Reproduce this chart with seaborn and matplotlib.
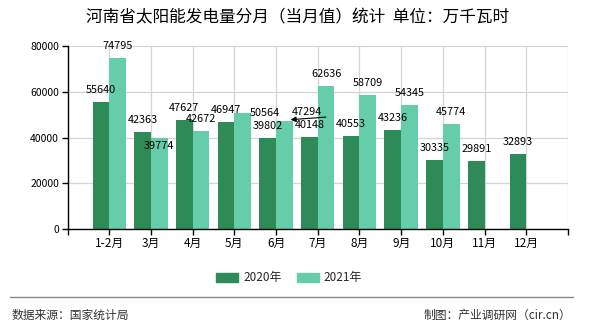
import numpy as np
import pandas as pd
import matplotlib
matplotlib.use("Agg")
import matplotlib.pyplot as plt
import seaborn as sns

# ---- data ----
months = ["1-2月", "3月", "4月", "5月", "6月", "7月", "8月", "9月", "10月", "11月", "12月"]
series_names = ["2020年", "2021年"]
values_2020 = [55640, 42363, 47627, 46947, 39802, 40148, 40553, 43236, 30335, 29891, 32893]
values_2021 = [74795, 39774, 42672, 50564, 47294, 62636, 58709, 54345, 45774, np.nan, np.nan]
y_ticks = [0, 20000, 40000, 60000, 80000]

title = "河南省太阳能发电量分月（当月值）统计  单位：万千瓦时"
source_text = "数据来源：国家统计局"
credit_text = "制图：产业调研网（cir.cn）"

colors = ["#2E8B57", "#66CDAA"]

df = pd.DataFrame({
    "month": months * 2,
    "series": [series_names[0]] * len(months) + [series_names[1]] * len(months),
    "value": values_2020 + values_2021,
})

sns.set_theme(style="white")
plt.rcParams["font.family"] = ["Noto Sans CJK SC", "DejaVu Sans"]

fig = plt.figure(figsize=(5.9, 3.3), dpi=100)
ax = fig.add_axes([67.5 / 590, 1 - 229 / 330, (568 - 67.5) / 590, (229 - 46) / 330])

sns.barplot(data=df, x="month", y="value", hue="series", palette=colors,
            width=0.8, gap=0, saturation=1, ax=ax, legend=True, errorbar=None,
            linewidth=0, edgecolor="none")

ax.set_xlim(-1, len(months))
ax.set_ylim(0, 80000)
ax.set_yticks(y_ticks)
ax.set_yticklabels([str(v) for v in y_ticks], fontsize=7.5, color="black")
ax.set_xticks(range(-1, len(months) + 1))
ax.set_xticklabels([""] + months + [""], fontsize=8.5, color="black")
ax.set_xlabel("")
ax.set_ylabel("")

ax.grid(True, axis="both", color="#d4d4d4", linewidth=0.9)
ax.set_axisbelow(True)
for s in ["top", "right"]:
    ax.spines[s].set_visible(False)
for s in ["left", "bottom"]:
    ax.spines[s].set_color("black")
    ax.spines[s].set_linewidth(1.0)
ax.tick_params(axis="both", which="major", direction="out", length=4, width=1,
               color="black", bottom=True, left=True, pad=2)

# data labels
special = {
    ("2021年", 1): (0, -8),
    ("2021年", 3): (22, 0),
    ("2021年", 4): (23, 9),
}
for container, name in zip(ax.containers, series_names):
    for bar in container:
        h = bar.get_height()
        if h is None or np.isnan(h) or h == 0:
            continue
        xc = bar.get_x() + bar.get_width() / 2
        idx = int(round(xc))
        dx, dy = special.get((name, idx), (0, 12))
        ax.annotate(f"{int(h)}", xy=(xc, h), xytext=(dx, dy), textcoords="offset pixels",
                    ha="center", va="center", fontsize=7.8, color="black",
                    annotation_clip=False)
        if (name, idx) == ("2021年", 4):
            ax.annotate("", xy=(xc + 0.08, h + 400), xytext=(dx + 18, dy - 6),
                        textcoords="offset pixels",
                        arrowprops=dict(arrowstyle="-|>", color="black", lw=0.8,
                                        mutation_scale=8))

# legend
leg = ax.get_legend()
if leg is not None:
    leg.remove()
handles = [plt.Rectangle((0, 0), 1, 1, color=c) for c in colors]
fig.legend(handles, series_names, loc="center", bbox_to_anchor=(0.49, 1 - 278 / 330),
           ncol=2, frameon=False, fontsize=8.5, handlelength=1.9, handleheight=0.7,
           columnspacing=1.3, handletextpad=0.4)

# title and footer
fig.text(0.505, 1 - 18 / 330, title, ha="center", va="center", fontsize=12, color="black")
fig.add_artist(plt.Line2D([10 / 590, 573 / 590], [1 - 297 / 330, 1 - 297 / 330],
                          color="#888888", linewidth=1.0))
fig.text(12 / 590, 1 - 315 / 330, source_text, ha="left", va="center", fontsize=8.5, color="#333333")
fig.text(571 / 590, 1 - 315 / 330, credit_text, ha="right", va="center", fontsize=8.5, color="#333333")

fig.savefig("out.png", dpi=100)
